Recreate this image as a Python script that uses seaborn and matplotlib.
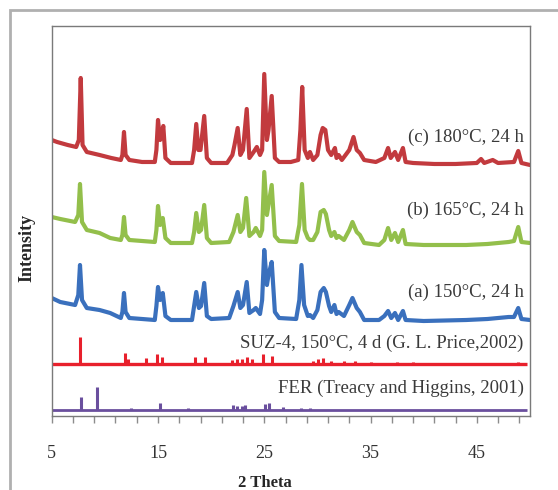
import numpy as np
import pandas as pd
import matplotlib
matplotlib.use("Agg")
import matplotlib.pyplot as plt
import seaborn as sns
from matplotlib.patches import Rectangle

# 2 theta / intensity (a.u., already stacked)
tt_c = [5.0, 5.5, 6.5, 7.3, 7.55, 7.73, 7.9, 8.3, 9.5, 10.6, 11.5, 11.65, 11.8, 11.95, 12.3, 13.5,
        14.7, 14.85, 15.0, 15.2, 15.5, 15.7, 16.2, 18.2, 18.4, 18.6, 18.8, 19.0, 19.35, 19.6, 20.0,
        21.5, 22.0, 22.2, 22.5, 22.75, 23.0, 23.35, 23.6, 24.0, 24.3, 24.6, 24.8, 25.0, 25.25, 25.4,
        25.7, 26.0, 26.4, 27.5, 28.2, 28.4, 28.57, 28.8, 29.1, 29.3, 29.6, 30.0, 30.3, 30.5, 30.75,
        31.0, 31.3, 31.65, 31.8, 32.0, 32.3, 33.0, 33.4, 33.7, 34.0, 34.4, 35.5, 36.3, 36.65, 36.9,
        37.3, 37.6, 38.05, 38.3, 39.0, 41.0, 43.0, 45.0, 45.4, 45.7, 46.5, 47.0, 48.5, 48.9, 49.2, 50.0]
int_c = [276, 274, 271, 269, 276, 338, 271, 264, 261, 258, 256, 261, 284, 261, 256, 254,
         254, 266, 296, 276, 290, 258, 253, 253, 266, 292, 266, 266, 300, 258, 253,
         253, 261, 271, 288, 261, 266, 307, 258, 264, 269, 261, 266, 342, 276, 286,
         320, 258, 254, 254, 256, 286, 329, 266, 258, 264, 256, 261, 281, 288, 286,
         266, 261, 268, 258, 261, 256, 266, 279, 266, 263, 256, 254, 258, 268, 258,
         264, 256, 268, 254, 253, 252, 252, 253, 257, 253, 256, 253, 254, 265, 253, 251]

tt_b = [5.0, 5.8, 7.2, 7.5, 7.66, 7.85, 8.3, 9.5, 10.5, 11.5, 11.65, 11.8, 11.95, 12.3, 14.7,
        14.85, 15.0, 15.2, 15.45, 15.7, 16.2, 18.2, 18.4, 18.6, 18.85, 19.05, 19.35, 19.6, 20.0,
        21.7, 22.1, 22.5, 22.75, 23.0, 23.3, 23.6, 24.0, 24.2, 24.6, 24.8, 25.0, 25.25, 25.4, 25.7,
        26.0, 26.4, 28.0, 28.3, 28.55, 28.8, 29.1, 29.3, 29.6, 30.0, 30.3, 30.6, 30.8, 31.1, 31.3,
        31.6, 31.8, 32.0, 32.5, 33.0, 33.3, 33.7, 34.0, 34.4, 35.8, 36.3, 36.65, 36.95, 37.3, 37.6,
        38.05, 38.3, 40.0, 44.0, 46.0, 48.0, 48.5, 48.9, 49.2, 50.0]
int_b = [199, 197, 194, 201, 232, 194, 186, 183, 178, 176, 181, 199, 181, 176, 174,
         186, 210, 191, 198, 178, 173, 173, 184, 203, 184, 186, 211, 178, 173,
         174, 184, 201, 184, 188, 218, 180, 184, 188, 180, 186, 244, 201, 211, 231,
         180, 175, 174, 191, 232, 186, 178, 176, 176, 184, 204, 206, 202, 186, 180,
         184, 178, 180, 176, 186, 194, 184, 181, 173, 171, 176, 188, 176, 183, 174,
         186, 172, 171, 171, 172, 174, 175, 189, 174, 173]

tt_a = [5.0, 5.8, 7.2, 7.5, 7.66, 7.85, 8.3, 9.5, 10.5, 11.5, 11.65, 11.8, 11.95, 12.3, 14.7,
        14.85, 15.0, 15.2, 15.45, 15.7, 16.2, 18.2, 18.4, 18.6, 18.85, 19.05, 19.35, 19.6, 20.0,
        21.7, 22.1, 22.5, 22.75, 23.0, 23.35, 23.6, 24.0, 24.2, 24.6, 24.8, 25.0, 25.25, 25.4, 25.7,
        26.0, 26.4, 28.0, 28.3, 28.5, 28.75, 29.1, 29.3, 29.6, 30.0, 30.3, 30.6, 30.8, 31.1, 31.3,
        31.6, 31.8, 32.0, 32.5, 33.0, 33.3, 33.7, 34.0, 34.4, 35.8, 36.3, 36.65, 36.95, 37.3, 37.6,
        38.05, 38.3, 40.0, 44.0, 46.0, 48.0, 48.5, 48.9, 49.2, 50.0]
int_a = [118, 114, 111, 121, 151, 116, 108, 106, 103, 98, 104, 123, 104, 98, 96,
         110, 129, 116, 123, 100, 96, 96, 110, 124, 108, 110, 133, 100, 97,
         98, 110, 124, 108, 111, 134, 103, 106, 108, 102, 116, 166, 131, 141, 154,
         104, 98, 97, 116, 151, 111, 100, 101, 98, 106, 124, 128, 124, 110, 104,
         111, 102, 104, 100, 111, 118, 108, 104, 96, 96, 100, 105, 98, 103, 96,
         105, 96, 95, 96, 97, 99, 99, 108, 97, 96]

# reference stick patterns
suz_base = 52
suz_pos = [7.66, 11.9, 12.2, 13.9, 14.9, 15.35, 18.5, 19.4, 22.0, 22.4, 22.9, 23.35, 23.8,
           24.9, 25.7, 29.6, 30.1, 30.5, 31.3, 32.5, 33.5, 35.0, 37.5, 39.0, 48.9]
suz_h = [27, 11, 5, 6, 10, 7, 7, 7, 4, 5, 5, 7, 5, 10, 8, 3, 5, 6, 3, 3, 3, 2, 2, 2, 2]

fer_base = 6
fer_pos = [7.8, 9.25, 12.5, 15.2, 17.8, 22.1, 22.4, 22.9, 23.2, 25.1, 25.4, 26.8, 28.5, 29.3]
fer_h = [13, 23, 2, 7, 2, 5, 4, 4, 5, 6, 7, 3, 2, 2]

labels = ["(c) 180°C, 24 h", "(b) 165°C, 24 h", "(a) 150°C, 24 h",
          "SUZ-4, 150°C, 4 d (G. L. Price,2002)", "FER (Treacy and Higgins, 2001)"]
label_y = [279, 206, 124, 73, 28]

sns.set_style("white")
plt.rcParams['font.family'] = ['Liberation Serif', 'DejaVu Serif']

fig = plt.figure(figsize=(5.58, 4.9), dpi=100)
ax = fig.add_axes([0.0927, 0.151, 0.857, 0.796])

# outer chart-area frame
fig.patches.append(Rectangle((10 / 558, -0.1), 1.2, (490 - 10) / 490 + 0.1, transform=fig.transFigure,
                             fill=False, edgecolor="#b0b0b0", lw=2.0))

traces = [(tt_c, int_c, "#c23a3e"), (tt_b, int_b, "#93bf4b"), (tt_a, int_a, "#3a70bd")]
for tt, yy, col in traces:
    df = pd.DataFrame({"two_theta": tt, "intensity": yy})
    sns.lineplot(data=df, x="two_theta", y="intensity", ax=ax, color=col, lw=3.0,
                 sort=False, estimator=None, solid_joinstyle="round")

ax.hlines(suz_base, 5, 49.7, color="#e8202c", lw=2.4)
ax.vlines(suz_pos, suz_base, np.array(suz_h) + suz_base, color="#e8202c", lw=2.2)
ax.hlines(fer_base, 5, 49.7, color="#6a4f9e", lw=2.0)
ax.vlines(fer_pos, fer_base, np.array(fer_h) + fer_base, color="#6a4f9e", lw=2.2)

for lab, yv in zip(labels, label_y):
    ax.text(49.4, yv, lab, ha="right", va="center", fontsize=13.5, color="#3a3a3a")

ax.set_xlim(5, 50)
ax.set_ylim(0, 390)
ax.set_yticks([])
ax.set_xticks(np.arange(5, 50, 2))
ax.set_xticklabels([str(v) if (v - 5) % 10 == 0 else "" for v in np.arange(5, 50, 2)])
ax.tick_params(axis="x", direction="out", length=5, width=1, color="#8c8c8c",
               pad=16, labelsize=13, labelcolor="#333333", bottom=True)
for s in ax.spines.values():
    s.set_color("#7a7a7a")
    s.set_linewidth(1.0)

ax.set_xlabel("2 Theta", fontsize=12, fontweight="bold")
ax.set_ylabel("Intensity", fontsize=13, fontweight="bold")
ax.xaxis.set_label_coords(0.445, -0.152)
ax.yaxis.set_label_coords(-0.035, 0.43)

fig.savefig("out.png", dpi=100)
